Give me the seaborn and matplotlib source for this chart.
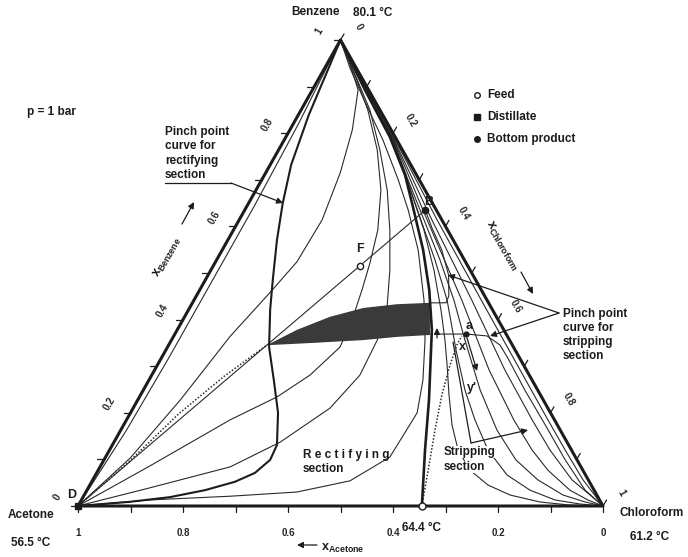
import matplotlib
matplotlib.use("Agg")
import matplotlib.pyplot as plt
import numpy as np
import pandas as pd
import seaborn as sns

# ---------------------------------------------------------------------------
# Compositions are given as (x_chloroform, x_benzene); x_acetone = 1 - both.
# ---------------------------------------------------------------------------
DISTILLATE = (0.0, 0.0)
FEED = (0.279, 0.515)
BOTTOM = (0.344, 0.635)
AZEOTROPE = (0.655, 0.0)
POINT_A = (0.5545, 0.369)

TRIANGLE = [(0.0, 0.0), (1.0, 0.0), (0.0, 1.0), (0.0, 0.0)]

# distillation boundary: azeotrope (64.4 C) -> benzene
BOUNDARY = [(0.655, 0.0), (0.601, 0.120), (0.555, 0.227), (0.485, 0.378),
            (0.437, 0.464), (0.383, 0.549), (0.317, 0.642), (0.268, 0.710),
            (0.198, 0.792), (0.100, 0.893), (0.0, 1.0)]

# pinch point curve of the rectifying section
RECT_PINCH = [(0.0, 0.0), (0.0945, 0.009), (0.1655, 0.019), (0.225, 0.034),
              (0.273, 0.052), (0.3015, 0.071), (0.3165, 0.099), (0.3135, 0.131),
              (0.281, 0.200), (0.238, 0.270), (0.1935, 0.341), (0.1555, 0.421),
              (0.1285, 0.485), (0.0935, 0.571), (0.065, 0.650), (0.040, 0.732),
              (0.020, 0.839), (0.0, 1.0)]

# distillation lines of the acetone region
R1 = [(0.0, 0.0), (0.011, 0.163), (0.014, 0.318), (0.014, 0.474),
      (0.014, 0.642), (0.010, 0.818), (0.0, 1.0)]
R2 = [(0.0, 0.0), (0.048, 0.103), (0.081, 0.227), (0.108, 0.365),
      (0.137, 0.459), (0.155, 0.524), (0.158, 0.614), (0.142, 0.715),
      (0.119, 0.807), (0.087, 0.893), (0.040, 0.953), (0.0, 1.0)]
R3 = [(0.0, 0.0), (0.094, 0.086), (0.1975, 0.185), (0.262, 0.234),
      (0.3015, 0.281), (0.3285, 0.341), (0.3225, 0.399), (0.309, 0.464),
      (0.2955, 0.521), (0.275, 0.592), (0.238, 0.678), (0.188, 0.764),
      (0.127, 0.850), (0.074, 0.914), (0.0, 1.0)]
R4 = [(0.0, 0.0), (0.1175, 0.039), (0.248, 0.084), (0.3165, 0.137),
      (0.375, 0.210), (0.3965, 0.281), (0.392, 0.356), (0.3735, 0.431),
      (0.341, 0.506), (0.298, 0.592), (0.250, 0.678), (0.193, 0.764),
      (0.131, 0.850), (0.0655, 0.925), (0.0, 1.0)]
R5 = [(0.0, 0.0), (0.1305, 0.013), (0.2795, 0.021), (0.402, 0.030),
      (0.491, 0.054), (0.5415, 0.105), (0.546, 0.200), (0.522, 0.270),
      (0.483, 0.356), (0.438, 0.442), (0.3735, 0.549), (0.3115, 0.635),
      (0.260, 0.700), (0.1885, 0.785), (0.1095, 0.871), (0.048, 0.940),
      (0.0, 1.0)]

# distillation lines of the chloroform region
S1 = [(1.0, 0.0), (0.934, 0.056), (0.868, 0.120), (0.8025, 0.185),
      (0.696, 0.292), (0.547, 0.442), (0.377, 0.614), (0.212, 0.785),
      (0.127, 0.871), (0.0, 1.0)]
S2 = [(1.0, 0.0), (0.963, 0.024), (0.913, 0.056), (0.839, 0.120),
      (0.7725, 0.185), (0.667, 0.292), (0.529, 0.442), (0.367, 0.614),
      (0.210, 0.785), (0.126, 0.871), (0.0, 1.0)]
S3 = [(1.0, 0.0), (0.9645, 0.013), (0.920, 0.034), (0.8565, 0.077),
      (0.805, 0.120), (0.7375, 0.185), (0.637, 0.292), (0.510, 0.442),
      (0.358, 0.614), (0.209, 0.785), (0.125, 0.871), (0.0, 1.0)]
S4 = [(1.0, 0.0), (0.9617, 0.0086), (0.912, 0.0236), (0.848, 0.056),
      (0.7845, 0.099), (0.7165, 0.163), (0.6415, 0.249), (0.559, 0.356),
      (0.495, 0.442), (0.4255, 0.528), (0.352, 0.614), (0.2786, 0.700),
      (0.208, 0.785), (0.124, 0.871), (0.0, 1.0)]
S5 = [(1.0, 0.0), (0.954, 0.0043), (0.902, 0.013), (0.844, 0.034),
      (0.784, 0.0665), (0.721, 0.120), (0.6635, 0.185), (0.6125, 0.249),
      (0.5525, 0.335), (0.482, 0.442), (0.416, 0.528), (0.346, 0.614),
      (0.2767, 0.700), (0.207, 0.785), (0.123, 0.871), (0.0, 1.0)]
S6 = [(1.0, 0.0), (0.936, 0.002), (0.8757, 0.0086), (0.811, 0.0236),
      (0.7585, 0.045), (0.708, 0.077), (0.664, 0.120), (0.6254, 0.174),
      (0.5877, 0.238), (0.5517, 0.3026), (0.521, 0.356), (0.4811, 0.4206),
      (0.4248, 0.5064), (0.363, 0.592), (0.2767, 0.700), (0.207, 0.785),
      (0.123, 0.871), (0.0, 1.0)]

# pinch point curve of the stripping section (two branches)
STRIP_PINCH_LOW = [(0.5055, 0.369), (0.5545, 0.369), (0.5965, 0.365),
                   (0.631, 0.3455), (0.660, 0.3175), (0.7265, 0.249),
                   (0.803, 0.174), (0.8785, 0.099), (0.949, 0.034), (1.0, 0.0)]
STRIP_PINCH_UP = [(0.452, 0.436), (0.483, 0.436), (0.481, 0.4506),
                  (0.458, 0.4957), (0.4185, 0.549), (0.376, 0.5966),
                  (0.344, 0.635)]

# column profiles (dotted)
RECT_PROFILE = [(0.0, 0.0), (0.050, 0.096), (0.093, 0.198),
                (0.139, 0.278), (0.187, 0.345)]
STRIP_PROFILE = [(0.655, 0.0), (0.6285, 0.077), (0.5985, 0.163),
                 (0.574, 0.238), (0.5573, 0.3026), (0.549, 0.3455),
                 (0.5485, 0.365)]

# region of feasible feed pinches (shaded)
FEASIBLE = [(0.187, 0.345), (0.228, 0.378), (0.277, 0.406), (0.331, 0.425),
            (0.391, 0.433), (0.452, 0.436), (0.487, 0.367), (0.427, 0.363),
            (0.365, 0.356), (0.273, 0.350)]

TICK_VALUES = [round(0.1 * i, 1) for i in range(11)]
LABEL_VALUES = [0.0, 0.2, 0.4, 0.6, 0.8, 1.0]
LABEL_TEXT = ["0", "0.2", "0.4", "0.6", "0.8", "1"]

# ---------------------------------------------------------------------------
sns.set_theme(style="white")
plt.rcParams["font.family"] = ["Liberation Sans", "DejaVu Sans"]
plt.rcParams["font.weight"] = "bold"
plt.rcParams["mathtext.fontset"] = "custom"
plt.rcParams["mathtext.rm"] = "Liberation Sans:bold"
plt.rcParams["mathtext.it"] = "Liberation Sans:bold"
plt.rcParams["mathtext.bf"] = "Liberation Sans:bold"

W, H = 688, 557
X0, Y0, XW, YH = 78, 506, 525, 466   # triangle frame in figure pixels

fig = plt.figure(figsize=(W / 100, H / 100), dpi=100)
ax = fig.add_axes([X0 / W, (H - Y0) / H, XW / W, YH / H])
ax.set_xlim(0, 1)
ax.set_ylim(0, 1)
ax.axis("off")

INK = "#1c1c1c"
THIN = "#2a2a2a"


def cart(c, b):
    return c + 0.5 * b, b


def P(px, py):
    """figure pixel -> axes data"""
    return (px - X0) / XW, (Y0 - py) / YH


def frame(curves):
    rows = []
    for name, pts in curves.items():
        for i, (c, b) in enumerate(pts):
            x, y = cart(c, b)
            rows.append((name, i, x, y))
    return pd.DataFrame(rows, columns=["curve", "order", "X", "Y"])


def draw(curves, **kw):
    sns.lineplot(data=frame(curves), x="X", y="Y", units="curve",
                 estimator=None, sort=False, legend=False, ax=ax, **kw)


draw({"R1": R1, "R2": R2, "R3": R3, "R4": R4, "R5": R5,
      "S1": S1, "S2": S2, "S3": S3, "S4": S4, "S5": S5, "S6": S6,
      "low": STRIP_PINCH_LOW, "up": STRIP_PINCH_UP,
      "mb": [DISTILLATE, FEED, BOTTOM]},
     color=THIN, linewidth=0.8, zorder=2)
draw({"rp": RECT_PROFILE, "sp": STRIP_PROFILE},
     color=THIN, linewidth=1.1, linestyle=(0, (1, 1.2)), zorder=2)

fx, fy = zip(*[cart(c, b) for c, b in FEASIBLE])
ax.fill(fx, fy, color="#3a3a3a", lw=0, zorder=3)

draw({"pinch": RECT_PINCH}, color=INK, linewidth=1.5, zorder=4)
draw({"bnd": BOUNDARY}, color=INK, linewidth=1.9, zorder=4)
draw({"tri": TRIANGLE}, color=INK, linewidth=2.2, zorder=5)
for ln in ax.lines:
    ln.set_clip_on(False)
    ln.set_solid_capstyle("round")

# ---- ticks ----------------------------------------------------------------
tk = dict(color=INK, lw=0.9, clip_on=False, zorder=5)
for v in TICK_VALUES:
    x, y = cart(1 - v, 0.0)                 # acetone axis (bottom)
    ax.plot([x, x], [y, y - 6 / YH], **tk)
    x, y = cart(0.0, v)                     # benzene axis (left)
    ax.plot([x, x - 7 / XW], [y, y], **tk)
    x, y = cart(v, 1 - v)                   # chloroform axis (right)
    ax.plot([x, x + 3.5 / XW], [y, y + 6 / YH], **tk)

for v, s in zip(LABEL_VALUES, LABEL_TEXT):
    x, y = cart(1 - v, 0.0)
    ax.annotate(s, (x, y), xytext=(0, -27), textcoords="offset pixels",
                ha="center", va="center", fontsize=7, annotation_clip=False)
    x, y = cart(0.0, v)
    ax.annotate(s, (x, y), xytext=(-21, 9), textcoords="offset pixels",
                ha="center", va="center", fontsize=7, rotation=60,
                annotation_clip=False)
    x, y = cart(v, 1 - v)
    ax.annotate(s, (x, y), xytext=(18, 13), textcoords="offset pixels",
                ha="center", va="center", fontsize=7, rotation=-60,
                annotation_clip=False)

# ---- marked compositions --------------------------------------------------
mk = dict(clip_on=False, zorder=7, color=INK)
ax.plot(*cart(*DISTILLATE), marker="s", ms=5, mfc=INK, mec=INK, **mk)
ax.plot(*cart(*FEED), marker="o", ms=4.5, mfc="white", mec=INK, mew=1, **mk)
ax.plot(*cart(*BOTTOM), marker="o", ms=4.5, mfc=INK, mec=INK, **mk)
ax.plot(*cart(*AZEOTROPE), marker="o", ms=5, mfc="white", mec=INK, mew=1, **mk)
ax.plot(*cart(*POINT_A), marker="o", ms=3.5, mfc=INK, mec=INK, **mk)


# ---- text -----------------------------------------------------------------
def T(px, py, s, size=8.5, **kw):
    kw.setdefault("ha", "center")
    kw.setdefault("va", "center")
    fig.text(px / W, 1 - py / H, s, fontsize=size, color=INK, **kw)


T(316, 12, "Benzene", 8.5)
T(373, 13, "80.1 \u00b0C", 8.5)
T(31, 515, "Acetone", 8.5)
T(31, 543, "56.5 \u00b0C", 8.5)
T(652, 513, "Chloroform", 8.5)
T(650, 537, "61.2 \u00b0C", 8.5)
T(422, 528, "64.4 \u00b0C", 8.5)
T(51, 112, "p = 1 bar", 8.5)

T(72, 495, "D", 9)
T(360, 249, "F", 9)
T(429, 202, "B", 9)
T(469, 326, "a", 9)
T(462, 347, "x", 9)
T(472, 388, "y'", 9)

# legend
ax.plot(*P(477, 95), marker="o", ms=4, mfc="white", mec=INK, mew=1, **mk)
ax.plot(*P(477, 117), marker="s", ms=4.5, mfc=INK, mec=INK, **mk)
ax.plot(*P(477, 139), marker="o", ms=4, mfc=INK, mec=INK, **mk)
T(487, 95, "Feed", 8.5, ha="left")
T(487, 117, "Distillate", 8.5, ha="left")
T(487, 139, "Bottom product", 8.5, ha="left")

# axis names
T(168, 257, r"$\mathrm{x}_{\mathrm{Benzene}}$", 9, rotation=60)
T(502, 246, r"$\mathrm{x}_{\mathrm{Chloroform}}$", 9, rotation=-60)
T(321, 548, r"$\mathrm{x}_{\mathrm{Acetone}}$", 9, ha="left")

arr = dict(arrowstyle="-|>", color=INK, lw=0.9, mutation_scale=9,
           shrinkA=0, shrinkB=0)
ax.annotate("", xy=P(194, 202), xytext=P(182, 224), arrowprops=arr,
            annotation_clip=False)
ax.annotate("", xy=P(533, 294), xytext=P(521, 272), arrowprops=arr,
            annotation_clip=False)
ax.annotate("", xy=P(297, 545), xytext=P(317, 545), arrowprops=arr,
            annotation_clip=False)

# section annotations
T(165, 153.5, "Pinch point\ncurve for\nrectifying\nsection", 8.5,
  ha="left", linespacing=1.25)
ax.plot(*zip(P(165, 183), P(231, 183)), color=INK, lw=0.9, clip_on=False)
ax.annotate("", xy=P(283, 203), xytext=P(231, 183), arrowprops=arr,
            annotation_clip=False)

T(563, 335, "Pinch point\ncurve for\nstripping\nsection", 8.5,
  ha="left", linespacing=1.25)
ax.annotate("", xy=P(448, 275), xytext=P(559, 313), arrowprops=arr,
            annotation_clip=False)
ax.annotate("", xy=P(490, 336), xytext=P(559, 313), arrowprops=arr,
            annotation_clip=False)
ax.annotate("", xy=P(437, 328), xytext=P(437, 338), arrowprops=arr,
            annotation_clip=False)

T(303, 455, "R e c t i f y i n g", 8.5, ha="left")
T(303, 469, "section", 8.5, ha="left")
T(444, 452, "Stripping", 8.5, ha="left",
  bbox=dict(fc="white", ec="none", pad=0.3))
T(444, 467, "section", 8.5, ha="left",
  bbox=dict(fc="white", ec="none", pad=0.3))

ax.plot(*zip(P(453, 342), P(471, 443)), color=INK, lw=0.9, clip_on=False,
        zorder=6)
ax.annotate("", xy=P(528, 430), xytext=P(471, 443), arrowprops=arr,
            annotation_clip=False)
ax.annotate("", xy=P(477, 371), xytext=P(467, 338), arrowprops=arr,
            annotation_clip=False)

fig.savefig("out.png", dpi=100, facecolor="white")
